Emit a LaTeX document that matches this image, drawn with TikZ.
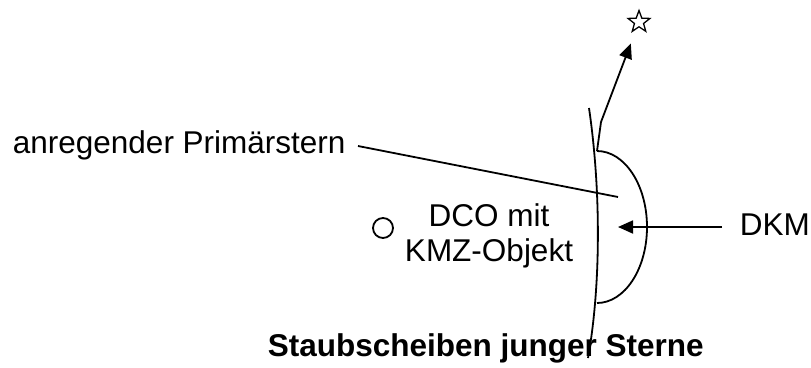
\documentclass[tikz,border=0pt]{standalone}
\usepackage{fontspec}
\setmainfont{Liberation Sans}
\usetikzlibrary{shapes.geometric,arrows.meta}

\tikzset{
  lbl/.style={inner sep=0pt,font=\fontsize{31.5}{35}\selectfont},
  stern/.style={star,star points=5,star point ratio=2.4,draw,fill=white,
    minimum size=23pt,inner sep=0pt,line width=1.3pt}
}

\begin{document}
\begin{tikzpicture}[x=1pt,y=-1pt,>={Triangle[length=15pt,width=13pt]},line width=1.8pt]
\useasboundingbox (0,0) rectangle (811,367);
% Scheibe und Kappe
\coordinate (oben) at (589,108);
\coordinate (unten) at (588,358);
\coordinate (kappe) at (597,151);
\coordinate (jet) at (601,122);
\draw (oben) .. controls (601,190) and (601,285) .. (unten);
\draw (kappe) arc[start angle=-90,end angle=90,x radius=50,y radius=76];
\draw (kappe) -- (jet);
\node[stern] (s) at (639,22) {};
\draw[->,shorten >=15pt] (jet) -- (s);
% Beschriftung
\node[lbl,anchor=base west] (anr) at (12,153) {anregender Primärstern};
\coordinate (a1) at (358,146);
\coordinate (a2) at (618,197);
\draw (a1) -- (a2);
\node[circle,draw,minimum size=20pt,inner sep=0pt] (dco) at (383,228) {};
\node[lbl,align=center] (kmz) at (489,236) {DCO mit\\KMZ-Objekt};
\node[lbl,anchor=base west] (dkm) at (739,235) {DKM};
\coordinate (d1) at (722,227);
\coordinate (d2) at (618,227);
\draw[->] (d1) -- (d2);
\node[lbl,anchor=base west,font=\fontsize{31.5}{35}\selectfont\bfseries] (titel) at (267,356) {Staubscheiben junger Sterne};
\end{tikzpicture}
\end{document}
